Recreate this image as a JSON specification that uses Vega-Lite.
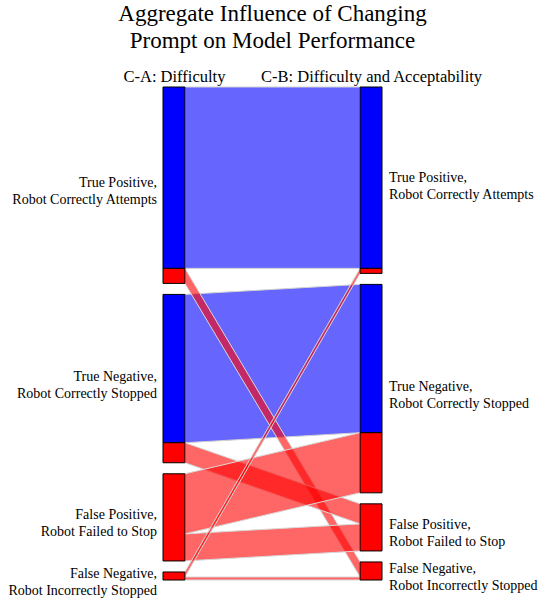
{
  "$schema": "https://vega.github.io/schema/vega-lite/v6.json",
  "width": 219,
  "height": 493,
  "autosize": {"type": "none"},
  "padding": {"left": 163, "top": 87, "right": 159, "bottom": 19},
  "background": "white",
  "config": {"view": {"stroke": null}, "font": "Liberation Serif"},
  "title": {
    "text": ["Aggregate Influence of Changing", "Prompt on Model Performance"],
    "font": "Liberation Serif",
    "fontSize": 23,
    "fontWeight": "normal",
    "color": "black",
    "lineHeight": 27,
    "anchor": "middle",
    "offset": 15
  },
  "data": {
    "values": [
      {"source": "True Positive,\nRobot Correctly Attempts", "s": 0, "target": "True Positive,\nRobot Correctly Attempts", "t": 0, "value": 181, "status": "Kept correct"},
      {"source": "True Positive,\nRobot Correctly Attempts", "s": 0, "target": "False Negative,\nRobot Incorrectly Stopped", "t": 3, "value": 15, "status": "Other"},
      {"source": "True Negative,\nRobot Correctly Stopped", "s": 1, "target": "True Negative,\nRobot Correctly Stopped", "t": 1, "value": 148, "status": "Kept correct"},
      {"source": "True Negative,\nRobot Correctly Stopped", "s": 1, "target": "False Positive,\nRobot Failed to Stop", "t": 2, "value": 20, "status": "Other"},
      {"source": "False Positive,\nRobot Failed to Stop", "s": 2, "target": "True Negative,\nRobot Correctly Stopped", "t": 1, "value": 60, "status": "Other"},
      {"source": "False Positive,\nRobot Failed to Stop", "s": 2, "target": "False Positive,\nRobot Failed to Stop", "t": 2, "value": 27, "status": "Other"},
      {"source": "False Negative,\nRobot Incorrectly Stopped", "s": 3, "target": "True Positive,\nRobot Correctly Attempts", "t": 0, "value": 5, "status": "Other"},
      {"source": "False Negative,\nRobot Incorrectly Stopped", "s": 3, "target": "False Negative,\nRobot Incorrectly Stopped", "t": 3, "value": 3, "status": "Other"}
    ]
  },
  "transform": [
    {"window": [{"op": "sum", "field": "value", "as": "cumL"}], "sort": [{"field": "s"}, {"field": "t"}]},
    {"window": [{"op": "sum", "field": "value", "as": "cumR"}], "sort": [{"field": "t"}, {"field": "s"}]},
    {"calculate": "datum.cumL - datum.value + 11 * datum.s", "as": "y0L"},
    {"calculate": "datum.cumL + 11 * datum.s", "as": "y1L"},
    {"calculate": "datum.cumR - datum.value + 11 * datum.t", "as": "y0R"},
    {"calculate": "datum.cumR + 11 * datum.t", "as": "y1R"}
  ],
  "layer": [
    {
      "transform": [
        {"filter": "datum.status == 'Kept correct'"},
        {"calculate": "datum.s + '-' + datum.t", "as": "link"},
        {"fold": ["y0L", "y0R"], "as": ["side", "ytop"]},
        {"calculate": "datum.side == 'y0L' ? datum.y1L : datum.y1R", "as": "ybot"},
        {"calculate": "datum.side == 'y0L' ? 0.1 : 0.9", "as": "xp"}
      ],
      "mark": {"type": "area", "fillOpacity": 0.6, "stroke": "#d0d0d0", "strokeWidth": 1, "interpolate": "linear"},
      "encoding": {
        "x": {
          "field": "xp", "type": "quantitative",
          "scale": {"domain": [0, 1], "nice": false, "zero": false},
          "axis": {
            "orient": "top", "values": [0.05, 0.95], "title": null,
            "labelExpr": "datum.value < 0.5 ? 'C-A: Difficulty' : 'C-B: Difficulty and Acceptability'",
            "domain": false, "ticks": false, "grid": false, "labelFlush": false, "labelOverlap": false, "labelLimit": 500,
            "labelFont": "Liberation Serif", "labelFontSize": 16.5, "labelColor": "black", "labelPadding": 3
          }
        },
        "y": {"field": "ytop", "type": "quantitative", "scale": {"domain": [0, 492], "reverse": true, "nice": false, "zero": false}, "axis": null},
        "y2": {"field": "ybot"},
        "detail": {"field": "link"},
        "color": {"field": "status", "type": "nominal", "scale": {"domain": ["Kept correct", "Other"], "range": ["#0000ff", "#ff0000"]}, "legend": null}
      }
    },
    {
      "transform": [
        {"filter": "datum.status != 'Kept correct'"},
        {"calculate": "datum.s + '-' + datum.t", "as": "link"},
        {"fold": ["y0L", "y0R"], "as": ["side", "ytop"]},
        {"calculate": "datum.side == 'y0L' ? datum.y1L : datum.y1R", "as": "ybot"},
        {"calculate": "datum.side == 'y0L' ? 0.1 : 0.9", "as": "xp"}
      ],
      "mark": {"type": "area", "fillOpacity": 0.6, "stroke": "#d8d8d8", "strokeWidth": 1, "interpolate": "linear"},
      "encoding": {
        "x": {
          "field": "xp", "type": "quantitative",
          "scale": {"domain": [0, 1], "nice": false, "zero": false},
          "axis": {
            "orient": "top", "values": [0.05, 0.95], "title": null,
            "labelExpr": "datum.value < 0.5 ? 'C-A: Difficulty' : 'C-B: Difficulty and Acceptability'",
            "domain": false, "ticks": false, "grid": false, "labelFlush": false, "labelOverlap": false, "labelLimit": 500,
            "labelFont": "Liberation Serif", "labelFontSize": 16.5, "labelColor": "black", "labelPadding": 3
          }
        },
        "y": {"field": "ytop", "type": "quantitative", "scale": {"domain": [0, 492], "reverse": true, "nice": false, "zero": false}, "axis": null},
        "y2": {"field": "ybot"},
        "detail": {"field": "link"},
        "color": {"field": "status", "type": "nominal", "scale": {"domain": ["Kept correct", "Other"], "range": ["#0000ff", "#ff0000"]}, "legend": null}
      }
    },
    {
      "transform": [
        {"aggregate": [{"op": "min", "field": "y0L", "as": "ya"}, {"op": "max", "field": "y1L", "as": "yb"}], "groupby": ["s", "status"]},
        {"calculate": "0", "as": "xa"},
        {"calculate": "0.1", "as": "xb"}
      ],
      "mark": {"type": "rect", "stroke": "black", "strokeWidth": 1, "opacity": 1},
      "encoding": {
        "x": {
          "field": "xa", "type": "quantitative",
          "scale": {"domain": [0, 1], "nice": false, "zero": false},
          "axis": {
            "orient": "top", "values": [0.05, 0.95], "title": null,
            "labelExpr": "datum.value < 0.5 ? 'C-A: Difficulty' : 'C-B: Difficulty and Acceptability'",
            "domain": false, "ticks": false, "grid": false, "labelFlush": false, "labelOverlap": false, "labelLimit": 500,
            "labelFont": "Liberation Serif", "labelFontSize": 16.5, "labelColor": "black", "labelPadding": 3
          }
        },
        "x2": {"field": "xb"},
        "y": {"field": "ya", "type": "quantitative", "scale": {"domain": [0, 492], "reverse": true, "nice": false, "zero": false}, "axis": null},
        "y2": {"field": "yb"},
        "color": {"field": "status", "type": "nominal", "scale": {"domain": ["Kept correct", "Other"], "range": ["#0000ff", "#ff0000"]}, "legend": null}
      }
    },
    {
      "transform": [
        {"aggregate": [{"op": "min", "field": "y0R", "as": "ya"}, {"op": "max", "field": "y1R", "as": "yb"}], "groupby": ["t", "status"]},
        {"calculate": "0.9", "as": "xa"},
        {"calculate": "1", "as": "xb"}
      ],
      "mark": {"type": "rect", "stroke": "black", "strokeWidth": 1, "opacity": 1},
      "encoding": {
        "x": {
          "field": "xa", "type": "quantitative",
          "scale": {"domain": [0, 1], "nice": false, "zero": false},
          "axis": {
            "orient": "top", "values": [0.05, 0.95], "title": null,
            "labelExpr": "datum.value < 0.5 ? 'C-A: Difficulty' : 'C-B: Difficulty and Acceptability'",
            "domain": false, "ticks": false, "grid": false, "labelFlush": false, "labelOverlap": false, "labelLimit": 500,
            "labelFont": "Liberation Serif", "labelFontSize": 16.5, "labelColor": "black", "labelPadding": 3
          }
        },
        "x2": {"field": "xb"},
        "y": {"field": "ya", "type": "quantitative", "scale": {"domain": [0, 492], "reverse": true, "nice": false, "zero": false}, "axis": null},
        "y2": {"field": "yb"},
        "color": {"field": "status", "type": "nominal", "scale": {"domain": ["Kept correct", "Other"], "range": ["#0000ff", "#ff0000"]}, "legend": null}
      }
    },
    {
      "transform": [
        {"aggregate": [{"op": "min", "field": "y0L", "as": "ya"}, {"op": "max", "field": "y1L", "as": "yb"}], "groupby": ["source"]},
        {"calculate": "(datum.ya + datum.yb) / 2", "as": "ym"},
        {"calculate": "0", "as": "xl"}
      ],
      "mark": {"type": "text", "align": "right", "baseline": "alphabetic", "dx": -6, "dy": 2, "fontSize": 14, "lineHeight": 17, "lineBreak": "\n", "font": "Liberation Serif", "color": "black"},
      "encoding": {
        "x": {
          "field": "xl", "type": "quantitative",
          "scale": {"domain": [0, 1], "nice": false, "zero": false},
          "axis": {
            "orient": "top", "values": [0.05, 0.95], "title": null,
            "labelExpr": "datum.value < 0.5 ? 'C-A: Difficulty' : 'C-B: Difficulty and Acceptability'",
            "domain": false, "ticks": false, "grid": false, "labelFlush": false, "labelOverlap": false, "labelLimit": 500,
            "labelFont": "Liberation Serif", "labelFontSize": 16.5, "labelColor": "black", "labelPadding": 3
          }
        },
        "y": {"field": "ym", "type": "quantitative", "scale": {"domain": [0, 492], "reverse": true, "nice": false, "zero": false}, "axis": null},
        "text": {"field": "source", "type": "nominal"}
      }
    },
    {
      "transform": [
        {"aggregate": [{"op": "min", "field": "y0R", "as": "ya"}, {"op": "max", "field": "y1R", "as": "yb"}], "groupby": ["target"]},
        {"calculate": "(datum.ya + datum.yb) / 2", "as": "ym"},
        {"calculate": "1", "as": "xl"}
      ],
      "mark": {"type": "text", "align": "left", "baseline": "alphabetic", "dx": 7, "dy": 2, "fontSize": 14, "lineHeight": 17, "lineBreak": "\n", "font": "Liberation Serif", "color": "black"},
      "encoding": {
        "x": {
          "field": "xl", "type": "quantitative",
          "scale": {"domain": [0, 1], "nice": false, "zero": false},
          "axis": {
            "orient": "top", "values": [0.05, 0.95], "title": null,
            "labelExpr": "datum.value < 0.5 ? 'C-A: Difficulty' : 'C-B: Difficulty and Acceptability'",
            "domain": false, "ticks": false, "grid": false, "labelFlush": false, "labelOverlap": false, "labelLimit": 500,
            "labelFont": "Liberation Serif", "labelFontSize": 16.5, "labelColor": "black", "labelPadding": 3
          }
        },
        "y": {"field": "ym", "type": "quantitative", "scale": {"domain": [0, 492], "reverse": true, "nice": false, "zero": false}, "axis": null},
        "text": {"field": "target", "type": "nominal"}
      }
    }
  ]
}
